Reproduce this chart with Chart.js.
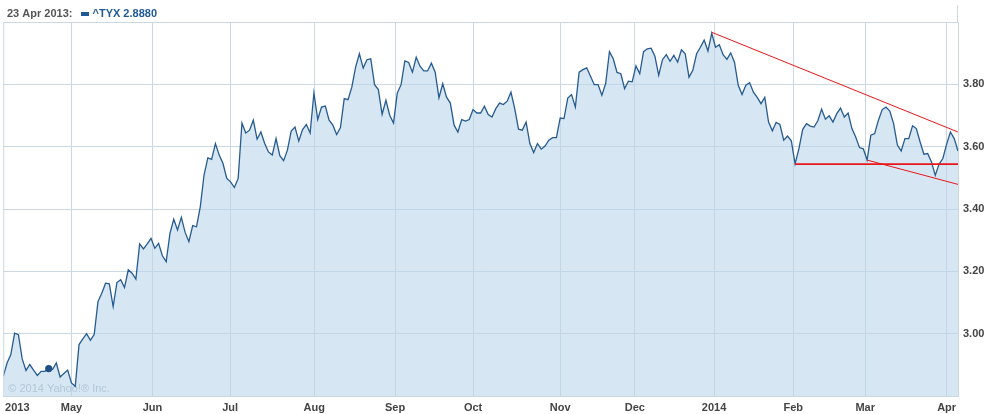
<!DOCTYPE html>
<html>
<head>
<meta charset="utf-8">
<title>^TYX</title>
<script src="https://cdn.jsdelivr.net/npm/chart.js@4/dist/chart.umd.min.js"></script>
<style>
  html, body { margin: 0; padding: 0; background: #fff; }
  #wrap { width: 988px; height: 414px; }
</style>
</head>
<body>
<div id="wrap"><canvas id="chart" width="988" height="414"></canvas></div>
<script>
// ^TYX daily close, one point per trading day (5 Apr 2013 .. 4 Apr 2014)
const tyx = [
  2.863, 2.906, 2.933, 3.002, 2.997, 2.919, 2.882, 2.901, 2.883, 2.866,
  2.879, 2.879, 2.888, 2.885, 2.906, 2.861, 2.872, 2.883, 2.842, 2.831,
  2.965, 2.983, 3.000, 2.979, 2.997, 3.103, 3.130, 3.162, 3.160, 3.087,
  3.164, 3.173, 3.148, 3.205, 3.194, 3.175, 3.288, 3.272, 3.288, 3.306,
  3.274, 3.290, 3.250, 3.231, 3.322, 3.367, 3.333, 3.373, 3.325, 3.295,
  3.347, 3.343, 3.407, 3.509, 3.564, 3.559, 3.610, 3.573, 3.546, 3.498,
  3.487, 3.469, 3.498, 3.676, 3.644, 3.653, 3.685, 3.624, 3.647, 3.610,
  3.583, 3.573, 3.626, 3.571, 3.555, 3.589, 3.650, 3.663, 3.618, 3.655,
  3.671, 3.644, 3.772, 3.687, 3.727, 3.730, 3.685, 3.669, 3.639, 3.661,
  3.754, 3.751, 3.791, 3.855, 3.898, 3.852, 3.879, 3.882, 3.799, 3.783,
  3.704, 3.749, 3.701, 3.676, 3.772, 3.799, 3.875, 3.870, 3.839, 3.887,
  3.858, 3.843, 3.843, 3.868, 3.839, 3.757, 3.802, 3.759, 3.740, 3.669,
  3.647, 3.687, 3.682, 3.687, 3.719, 3.708, 3.708, 3.730, 3.703, 3.695,
  3.722, 3.740, 3.735, 3.746, 3.775, 3.722, 3.656, 3.653, 3.679, 3.610,
  3.581, 3.610, 3.592, 3.602, 3.621, 3.629, 3.629, 3.692, 3.690, 3.756,
  3.767, 3.727, 3.839, 3.847, 3.853, 3.826, 3.799, 3.799, 3.765, 3.802,
  3.905, 3.882, 3.838, 3.834, 3.786, 3.810, 3.808, 3.859, 3.834, 3.905,
  3.914, 3.916, 3.890, 3.829, 3.879, 3.895, 3.874, 3.893, 3.871, 3.911,
  3.898, 3.823, 3.845, 3.898, 3.919, 3.942, 3.907, 3.964, 3.919, 3.927,
  3.895, 3.880, 3.901, 3.871, 3.797, 3.767, 3.797, 3.805, 3.775, 3.758,
  3.738, 3.758, 3.679, 3.651, 3.678, 3.671, 3.621, 3.634, 3.619, 3.545,
  3.593, 3.655, 3.674, 3.666, 3.663, 3.683, 3.720, 3.688, 3.699, 3.679,
  3.706, 3.724, 3.695, 3.708, 3.658, 3.631, 3.597, 3.593, 3.557, 3.637,
  3.642, 3.685, 3.719, 3.727, 3.714, 3.674, 3.605, 3.586, 3.626, 3.626,
  3.667, 3.658, 3.615, 3.576, 3.578, 3.551, 3.508, 3.544, 3.562, 3.608,
  3.647, 3.626, 3.586
];

// month ticks along the trading-day index
const monthLabels = ["2013", "May", "Jun", "Jul", "Aug", "Sep", "Oct", "Nov", "Dec", "2014", "Feb", "Mar", "Apr"];
const monthIdx = [3.7, 18.0, 39.4, 59.9, 82.1, 103.4, 124.0, 147.0, 166.7, 187.6, 208.5, 227.5, 249.0];

// hovered point shown in the header
const hoverIdx = 12;
const hoverLabel = "23 Apr 2013:";
const symbol = "^TYX";

// hand-drawn red trend lines (index, yield)
const trendUpper = [{ x: 187, y: 3.967 }, { x: 252, y: 3.647 }];
const trendFlat = [{ x: 209, y: 3.544 }, { x: 252, y: 3.544 }];
const trendLower = [{ x: 228, y: 3.557 }, { x: 252, y: 3.479 }];

const gridColor = "#cbd8e2";
const lineColor = "#265b8f";
const red = "rgb(232, 22, 26)";

const extras = {
    id: "extras",
    beforeDatasetsDraw(chart) {
        const ctx = chart.ctx;
        const a = chart.chartArea;
        ctx.save();
        ctx.font = "11px 'Liberation Sans', Arial, sans-serif";
        ctx.fillStyle = "#a7b3be";
        ctx.textBaseline = "middle";
        ctx.fillText("\u00a9 2014 Yahoo!\u00ae Inc.", a.left + 5, a.bottom - 7);
        ctx.restore();
    },
    afterDraw(chart) {
        const ctx = chart.ctx;
        const a = chart.chartArea;
        ctx.save();
        ctx.strokeStyle = gridColor;
        ctx.lineWidth = 1;
        ctx.beginPath();
        ctx.moveTo(a.left + 0.5, a.top);
        ctx.lineTo(a.left + 0.5, a.bottom);
        ctx.moveTo(a.right - 0.5, 5);
        ctx.lineTo(a.right - 0.5, a.top);
        ctx.stroke();

        ctx.textBaseline = "middle";
        ctx.font = "bold 11px 'Liberation Sans', Arial, sans-serif";
        ctx.fillStyle = "#555";
        ctx.fillText(hoverLabel, 7, 13.5);
        ctx.fillStyle = "#1f5a96";
        ctx.fillRect(81, 12, 8, 4);
        ctx.fillText(symbol + " " + tyx[hoverIdx].toFixed(4), 92.5, 13.5);
        ctx.restore();
    }
};

function trend(data, width) {
    return {
        data: data,
        borderColor: red,
        borderWidth: width,
        pointRadius: 0,
        fill: false,
        tension: 0
    };
}

const config = {
    type: "line",
    data: {
        datasets: [
            trend(trendUpper, 1),
            trend(trendFlat, 1.6),
            trend(trendLower, 1),
            {
                label: symbol,
                data: tyx.map((v, i) => ({ x: i, y: v })),
                borderColor: lineColor,
                borderWidth: 1.3,
                backgroundColor: "rgba(187, 213, 233, 0.6)",
                fill: "start",
                tension: 0,
                pointRadius: (c) => (c.dataIndex === hoverIdx ? 3.6 : 0),
                pointBackgroundColor: "#1f4f85",
                pointBorderWidth: 0
            }
        ]
    },
    options: {
        responsive: false,
        devicePixelRatio: 1,
        animation: false,
        layout: { padding: { left: 3, top: 22, right: 0, bottom: 0 } },
        plugins: {
            legend: { display: false },
            tooltip: { enabled: false }
        },
        scales: {
            x: {
                type: "linear",
                min: 0,
                max: tyx.length - 1,
                afterBuildTicks: (s) => { s.ticks = monthIdx.map((v) => ({ value: v })); },
                afterFit: (s) => { s.height = 18; },
                grid: {
                    color: (c) => (c.tick && c.tick.value === monthIdx[0] ? "rgba(0,0,0,0)" : gridColor),
                    drawTicks: false
                },
                border: { color: gridColor },
                ticks: {
                    autoSkip: false,
                    maxRotation: 0,
                    padding: 5,
                    color: "#444",
                    font: { family: "'Liberation Sans', Arial, sans-serif", size: 11, weight: "bold" },
                    callback: (v, i) => monthLabels[i]
                }
            },
            y: {
                position: "right",
                min: 2.8,
                max: 4.0,
                afterFit: (s) => { s.width = 30; },
                grid: { color: gridColor, drawTicks: false },
                border: { color: gridColor },
                ticks: {
                    stepSize: 0.2,
                    padding: 5,
                    color: "#444",
                    font: { family: "'Liberation Sans', Arial, sans-serif", size: 11, weight: "bold" },
                    callback: (v) => (v < 2.9 || v > 3.9 ? "" : v.toFixed(2))
                }
            }
        }
    },
    plugins: [extras]
};

new Chart(document.getElementById("chart"), config);
</script>
</body>
</html>
